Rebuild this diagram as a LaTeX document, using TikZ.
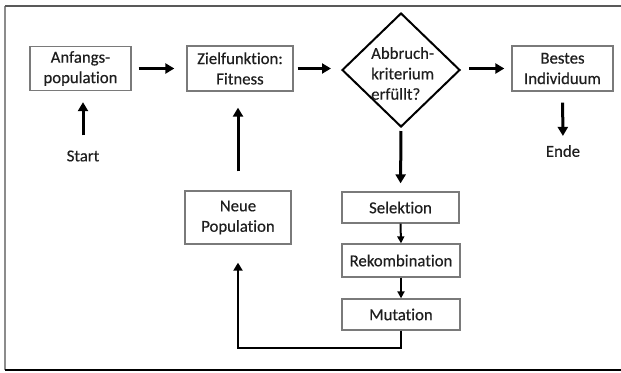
\documentclass[tikz,border=0pt]{standalone}
\usepackage{fontspec}
\setmainfont[Ligatures=NoCommon, FakeBold=0.35]{Carlito}
\usetikzlibrary{shapes.geometric,arrows.meta}
\definecolor{boxgray}{HTML}{7A7A7A}
\definecolor{txt}{HTML}{1E1E1E}
\definecolor{frametop}{HTML}{595959}
\definecolor{frameleft}{HTML}{8C8C8C}
\newcommand\lblfont{\fontsize{16.8}{20.5}\selectfont}
\begin{document}
\begin{tikzpicture}[x=1bp,y=-1bp,
  box/.style={draw=boxgray, line width=1.3bp, fill=white, inner sep=0, align=center, font=\lblfont, text=txt},
  lab/.style={inner sep=0, font=\lblfont, text=txt},
  big/.style={line width=3bp, -{Triangle[length=9bp,width=10bp]}},
  small/.style={line width=2bp, -{Triangle[length=7bp,width=7bp]}},
  back/.style={line width=2bp, -{Triangle[length=8bp,width=9bp]}},
]
\useasboundingbox (0,0) rectangle (621,372);
% frame
\draw[line width=2bp, frameleft] (5,5.5) -- (5,370);
\draw[line width=2bp, frametop] (5,5.5) -- (621,5.5);
\draw[line width=2bp, black] (5,370) -- (621,370);

% nodes
\node[box, minimum width=101bp, minimum height=44bp] (A) at (80.5,68.5) {Anfangs-\\population};
\node[box, minimum width=106bp, minimum height=45bp] (Z) at (240,68.5) {Zielfunktion:\\Fitness};
\node[diamond, draw, line width=2bp, minimum width=118bp, minimum height=114bp, inner sep=0] (D) at (401,70) {};
\node[lab, align=left, anchor=north west] (Dt) at (371,47) {Abbruch-\\kriterium\\erfüllt?};
\node[box, minimum width=101bp, minimum height=45bp] (B) at (562.5,68.5) {Bestes\\Individuum};
\node[lab] (S) at (83,156) {Start};
\node[lab] (E) at (563,151) {Ende};
\node[box, minimum width=106bp, minimum height=53bp] (NP) at (238,217.5) {Neue\\Population};
\node[box, minimum width=117bp, minimum height=31bp] (Sel) at (400.5,207.5) {Selektion};
\node[box, minimum width=118bp, minimum height=33bp] (Rek) at (401,260.5) {Rekombination};
\node[box, minimum width=118bp, minimum height=31bp] (Mut) at (401,314.5) {Mutation};

% connectors
\draw[big, shorten <=15bp, shorten >=11bp] (S.north) -- (S.north |- A.south);
\draw[big, shorten <=7bp, shorten >=12bp] (A.east) -- (Z.west);
\draw[big, shorten <=4bp, shorten >=10bp] (Z.east) -- (Z.east -| D.west);
\draw[big, shorten <=8bp, shorten >=7bp] (B.west -| D.east) -- (B.west);
\draw[big, shorten <=11bp, shorten >=9bp] (B.south) -- (E.north);
\draw[big, shorten <=3bp, shorten >=8bp] (D.south) -- (Sel.north);
\draw[small] (Sel.south) -- (Rek.north);
\draw[small] (Rek.south) -- (Mut.north);
\draw[back, shorten >=18bp] (Mut.south) -- ++(0,17) -| (NP.south);
\draw[big, shorten <=19bp, shorten >=16bp] (NP.north) -- (NP.north |- Z.south);
\end{tikzpicture}
\end{document}
